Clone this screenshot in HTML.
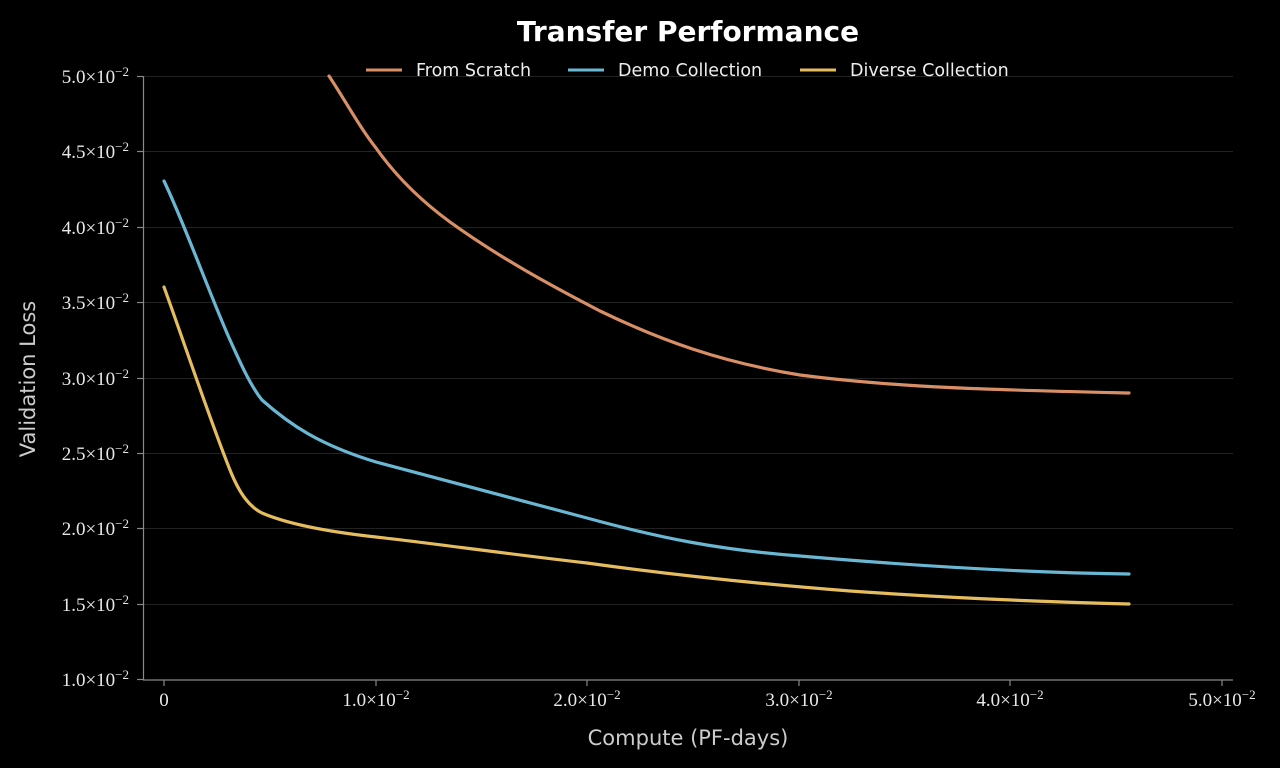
<!DOCTYPE html>
<html><head><meta charset="utf-8"><style>
html,body{margin:0;padding:0;background:#000;}
svg{display:block;}
.t{font-family:"Liberation Serif",serif;font-size:19px;fill:#e8e8e8;}
.s{font-family:"DejaVu Sans","Liberation Sans",sans-serif;}
</style></head><body>
<svg width="1280" height="768" viewBox="0 0 1280 768" xmlns="http://www.w3.org/2000/svg">
<rect width="1280" height="768" fill="#000"/>
<g stroke="#222" stroke-width="1">
<line x1="143" x2="1233" y1="76.5" y2="76.5"/>
<line x1="143" x2="1233" y1="151.5" y2="151.5"/>
<line x1="143" x2="1233" y1="227.5" y2="227.5"/>
<line x1="143" x2="1233" y1="302.5" y2="302.5"/>
<line x1="143" x2="1233" y1="378.5" y2="378.5"/>
<line x1="143" x2="1233" y1="453.5" y2="453.5"/>
<line x1="143" x2="1233" y1="528.5" y2="528.5"/>
<line x1="143" x2="1233" y1="604.5" y2="604.5"/>
</g>
<g stroke="#888" stroke-width="1.2" fill="none">
<line x1="143.5" y1="76" x2="143.5" y2="680"/>
<line x1="143" y1="680" x2="1233" y2="680"/>
<g>
<line x1="137" x2="143" y1="76.5" y2="76.5"/><line x1="137" x2="143" y1="151.5" y2="151.5"/>
<line x1="137" x2="143" y1="227.5" y2="227.5"/><line x1="137" x2="143" y1="302.5" y2="302.5"/>
<line x1="137" x2="143" y1="378.5" y2="378.5"/><line x1="137" x2="143" y1="453.5" y2="453.5"/>
<line x1="137" x2="143" y1="528.5" y2="528.5"/><line x1="137" x2="143" y1="604.5" y2="604.5"/>
<line x1="137" x2="143" y1="679.5" y2="679.5"/>
<line x1="164" x2="164" y1="680" y2="686"/><line x1="376" x2="376" y1="680" y2="686"/>
<line x1="587" x2="587" y1="680" y2="686"/><line x1="799" x2="799" y1="680" y2="686"/>
<line x1="1010" x2="1010" y1="680" y2="686"/><line x1="1222" x2="1222" y1="680" y2="686"/>
</g></g>
<g class="t" text-anchor="end">
<text x="129" y="83">5.0×10<tspan dy="-7" font-size="13">−2</tspan></text>
<text x="129" y="158">4.5×10<tspan dy="-7" font-size="13">−2</tspan></text>
<text x="129" y="234">4.0×10<tspan dy="-7" font-size="13">−2</tspan></text>
<text x="129" y="309">3.5×10<tspan dy="-7" font-size="13">−2</tspan></text>
<text x="129" y="385">3.0×10<tspan dy="-7" font-size="13">−2</tspan></text>
<text x="129" y="460">2.5×10<tspan dy="-7" font-size="13">−2</tspan></text>
<text x="129" y="535">2.0×10<tspan dy="-7" font-size="13">−2</tspan></text>
<text x="129" y="611">1.5×10<tspan dy="-7" font-size="13">−2</tspan></text>
<text x="129" y="686">1.0×10<tspan dy="-7" font-size="13">−2</tspan></text>
</g>
<g class="t" text-anchor="middle">
<text x="164" y="706">0</text>
<text x="376" y="706">1.0×10<tspan dy="-7" font-size="13">−2</tspan></text>
<text x="587" y="706">2.0×10<tspan dy="-7" font-size="13">−2</tspan></text>
<text x="799" y="706">3.0×10<tspan dy="-7" font-size="13">−2</tspan></text>
<text x="1010" y="706">4.0×10<tspan dy="-7" font-size="13">−2</tspan></text>
<text x="1222" y="706">5.0×10<tspan dy="-7" font-size="13">−2</tspan></text>
</g>
<g fill="none" stroke-width="3.2" stroke-linejoin="round" stroke-linecap="round">
<path stroke="#d98f66" d="M329,76 C345,100 360,128 376,148 C395,175 420,200 450,222 C500,258 550,285 600,311 C660,340 720,362 800,375 C900,388 1000,390 1129,393"/>
<path stroke="#6ab7d4" d="M164,181 C185,225 210,295 230,340 C240,362 250,385 262,400 C290,425 320,445 376,462 C450,482 520,500 587,518 C660,538 720,550 800,556 C950,569 1050,573 1129,574"/>
<path stroke="#e5bd5f" d="M164,287 C185,345 210,420 230,470 C240,495 250,507 262,513 C290,525 330,532 376,537 C430,543 500,553 587,563 C680,576 760,584 850,591 C950,598 1050,602 1129,604"/>
</g>
<g class="s" font-size="17.5" fill="#eee">
<line x1="366" x2="402" y1="70" y2="70" stroke="#d98f66" stroke-width="3"/>
<text x="416" y="76">From Scratch</text>
<line x1="568" x2="604" y1="70" y2="70" stroke="#6ab7d4" stroke-width="3"/>
<text x="618" y="76">Demo Collection</text>
<line x1="800" x2="836" y1="70" y2="70" stroke="#e5bd5f" stroke-width="3"/>
<text x="850" y="76">Diverse Collection</text>
</g>
<text class="s" x="688" y="41" text-anchor="middle" font-size="28" font-weight="bold" fill="#fff">Transfer Performance</text>
<text class="s" x="688" y="745" text-anchor="middle" font-size="21" fill="#ccc">Compute (PF-days)</text>
<text class="s" transform="translate(35,379) rotate(-90)" text-anchor="middle" font-size="21" fill="#ccc">Validation Loss</text>
</svg>
</body></html>
